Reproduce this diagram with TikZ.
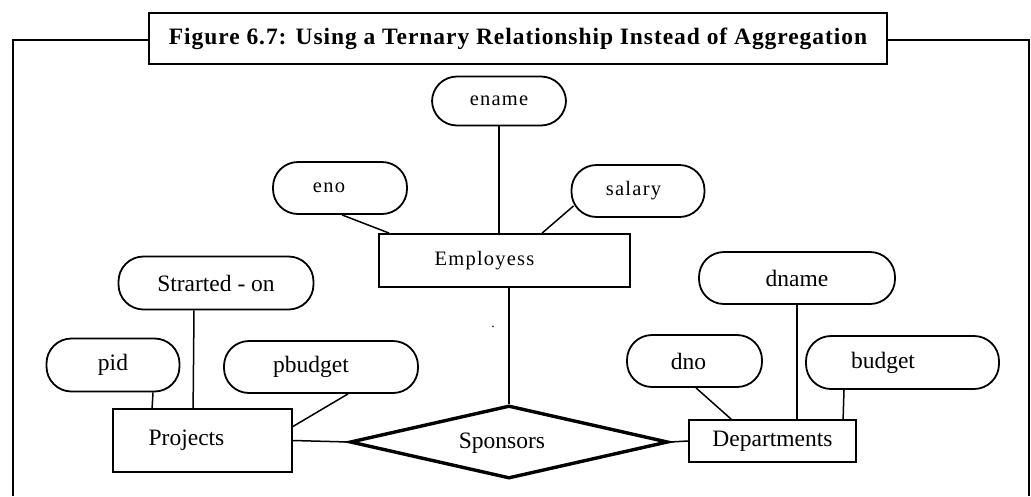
\documentclass[tikz,border=0pt]{standalone}
\usepackage{fontspec}
\setmainfont{Liberation Serif}
\newfontfamily\smallfont[LetterSpace=6]{Liberation Serif}
\newfontfamily\titlefont[LetterSpace=4]{Liberation Serif}
\usetikzlibrary{calc,shapes.geometric}
\newcommand{\pushleft}[1]{\hspace{#1}\mbox{}}
\tikzset{
	attr/.style={draw, line width=1.8pt, rounded corners=25pt, inner sep=0pt, font=\fontsize{23.5}{28}\selectfont},
	smallattr/.style={attr, font=\smallfont\fontsize{20.5}{24}\selectfont},
	entity/.style={draw, line width=1.8pt, inner sep=0pt, font=\fontsize{23.5}{28}\selectfont},
	rel/.style={draw, diamond, line width=3.4pt, inner sep=0pt, font=\fontsize{23.5}{28}\selectfont},
	link/.style={line width=1.5pt}
}

\begin{document}
\begin{tikzpicture}[x=1pt, y=-1pt]
		%%%%% START %%%%%
		\useasboundingbox (0,0) rectangle (1031,496);
		
		% frame and title
		\node[draw, line width=2.4pt, minimum width=738pt, minimum height=51pt, inner sep=0pt,
			font=\titlefont\bfseries\fontsize{23.5}{28}\selectfont] (title) at (518,38.5)
			{Figure 6.7: Using a Ternary Relationship Instead of Aggregation};
		\draw[line width=2.4pt] (13,496) -- (13,40) -- (title.west |- 0,40);
		\draw[line width=2.4pt] (title.east |- 0,40) -- (1029,40) -- (1029,496);
		
		% Employess
		\node[entity, minimum width=251pt, minimum height=53pt, font=\smallfont\fontsize{20.5}{24}\selectfont] (emp) at (504.5,260.5) {Employess\pushleft{40pt}};
		\node[smallattr, minimum width=134pt, minimum height=49pt] (ename) at (499,101) {ename};
		\node[smallattr, minimum width=134pt, minimum height=52pt] (eno) at (340,188) {eno\pushleft{22pt}};
		\node[smallattr, minimum width=133pt, minimum height=52pt] (salary) at (638,191) {salary\pushleft{9pt}};
		\draw[link] (ename.south) -- (ename.south |- emp.north);
		\draw[link] ($(eno.south)+(2,0)$) -- ($(emp.north west)+(11,0)$);
		\draw[link] ($(salary.south west)+(3,-12)$) -- ($(emp.north west)+(164,0)$);
		
		% Projects
		\node[entity, minimum width=179pt, minimum height=63pt] (proj) at (202.5,440.5) {Projects\pushleft{32pt}};
		\node[attr, minimum width=195pt, minimum height=53pt] (started) at (216,283) {Strarted - on};
		\node[attr, minimum width=133pt, minimum height=53pt] (pid) at (113,365) {pid};
		\node[attr, minimum width=194pt, minimum height=52pt] (pbudget) at (321,367) {pbudget\pushleft{20pt}};
		\draw[link] ($(pid.south)+(40,0)$) -- ($(proj.north west)+(40,0)$);
		\draw[link] ($(started.south)+(-22,0)$) -- ($(proj.north west)+(81,0)$);
		\draw[link] ($(pbudget.south)+(27,0)$) -- ($(proj.east)+(0,-14)$);
		
		% Departments
		\node[entity, minimum width=167pt, minimum height=42pt] (dept) at (772.5,441) {Departments};
		\node[attr, minimum width=196pt, minimum height=52pt] (dname) at (797,278) {dname};
		\node[attr, minimum width=135pt, minimum height=52pt] (dno) at (694.5,361) {dno\pushleft{12pt}};
		\node[attr, minimum width=193pt, minimum height=53pt] (budget) at (902.5,362.5) {budget\pushleft{39pt}};
		\draw[link] (dname.south) -- (dname.south |- dept.north);
		\draw[link] ($(dno.south)+(1.5,0)$) -- ($(dept.north west)+(43,0)$);
		\draw[link] ($(budget.south)+(-58.5,0)$) -- ($(dept.north west)+(155,0)$);
		
		% Sponsors
		\node[rel, minimum width=318pt, minimum height=73pt] (spons) at (509,442) {};
		\node[font=\fontsize{23.5}{28}\selectfont] (sponstext) at (502,443) {Sponsors};
		\draw[link] (proj.east) -- (spons.west);
		\draw[link] (spons.east) -- (dept.west);
		\draw[link] (spons.north) -- (spons.north |- emp.south);
		\node[font=\fontsize{14}{16}\selectfont, inner sep=0pt] (dot) at (493,327) {.};
		
		%%%%% END %%%%%
	\end{tikzpicture}
\end{document}
